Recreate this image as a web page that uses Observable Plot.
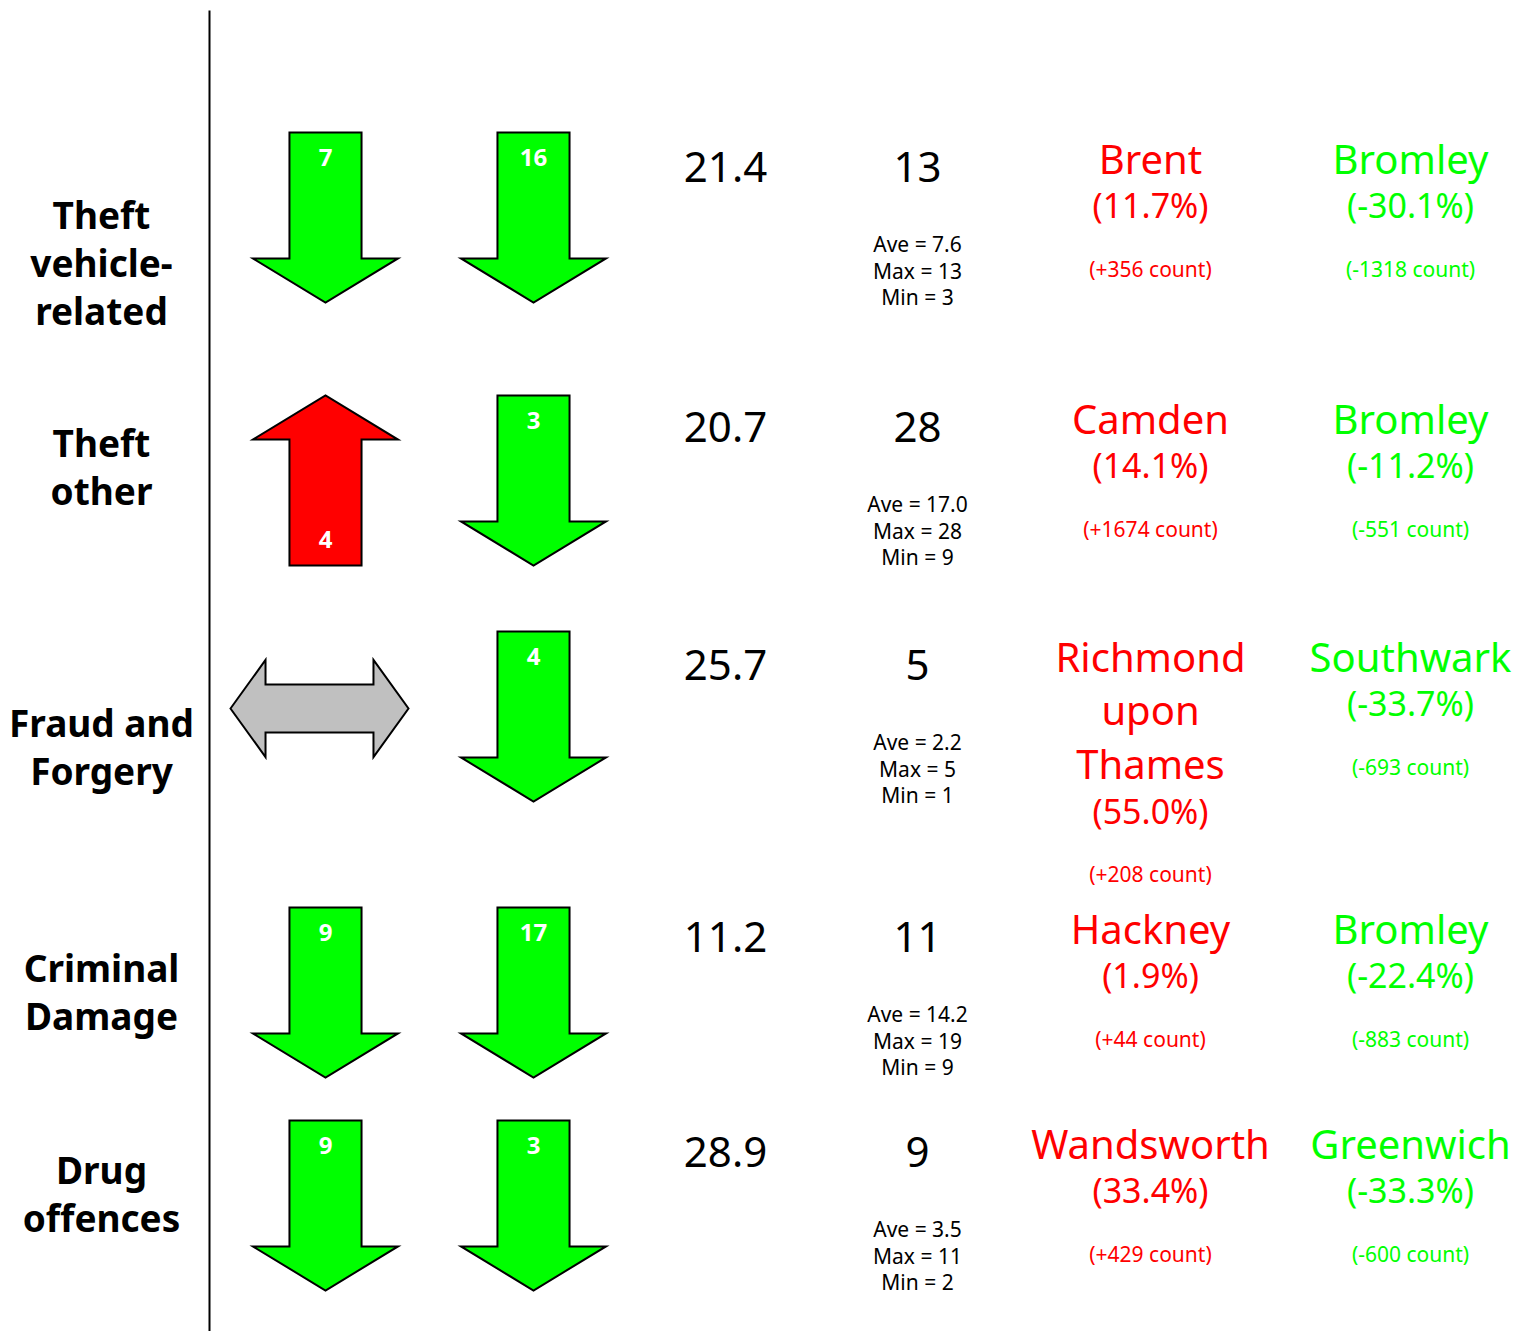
<!DOCTYPE html>
<html><head><meta charset="utf-8">
<script src="https://cdn.jsdelivr.net/npm/d3@7"></script>
<script src="https://cdn.jsdelivr.net/npm/@observablehq/plot@0.6"></script>
<style>
html,body{margin:0;padding:0;background:#fff;}
#wrap{display:flex;width:1517px;height:1331px;background:#fff;}
#wrap svg{display:block;max-width:none;}
</style></head><body><div id="wrap"></div>
<script>
// ---- data ----
const crimeLabels = ["Theft\nvehicle-\nrelated", "Theft\nother", "Fraud and\nForgery", "Criminal\nDamage", "Drug\noffences"];
const trendDirection = ["down", "up", "flat", "down", "down"];
const trendValue = [7, 4, null, 9, 9];
const rankChange = [16, 3, 4, 17, 3];
const rate = [21.4, 20.7, 25.7, 11.2, 28.9];
const rank = [13, 28, 5, 11, 9];
const rankAve = [7.6, 17.0, 2.2, 14.2, 3.5];
const rankMax = [13, 28, 5, 19, 11];
const rankMin = [3, 9, 1, 9, 2];
const worstBorough = ["Brent", "Camden", "Richmond upon Thames", "Hackney", "Wandsworth"];
const worstPct = [11.7, 14.1, 55.0, 1.9, 33.4];
const worstCount = [356, 1674, 208, 44, 429];
const bestBorough = ["Bromley", "Bromley", "Southwark", "Bromley", "Greenwich"];
const bestPct = [-30.1, -11.2, -33.7, -22.4, -33.3];
const bestCount = [-1318, -551, -693, -883, -600];

// ---- layout (scale ranges of the three panels) ----
const arrowColumns = ["trend", "change"];
const textColumns = ["rate", "rank", "worst", "best"];
const arrowColCenters = [117, 325];
const textColCenters = [85, 277, 510, 770];
const labelRowCenters = [263, 467, 747, 992, 1194];
const arrowRowCenters = [217, 480, 716, 992, 1205];
const textRowCenters = [167, 427, 665, 937, 1152];
const FONT = "'Noto Sans', sans-serif";
const GREEN = "#00ff00", RED = "#ff0000", GREY = "#c0c0c0";
const H = 1331;

function wrapName(s, maxChars = 10) {
  const words = s.split(" "), lines = [];
  let cur = "";
  for (const w of words) {
    if (cur && (cur + " " + w).length > maxChars) { lines.push(cur); cur = w; }
    else cur = cur ? cur + " " + w : w;
  }
  lines.push(cur);
  return lines;
}
const sign = v => (v > 0 ? "+" : "") + v;

const rows = crimeLabels.map((label, i) => ({
  row: i, label, dir: trendDirection[i], trend: trendValue[i], change: rankChange[i],
  rate: rate[i], rank: rank[i], ave: rankAve[i], max: rankMax[i], min: rankMin[i],
  worst: wrapName(worstBorough[i]), worstPct: worstPct[i], worstCount: worstCount[i],
  best: wrapName(bestBorough[i]), bestPct: bestPct[i], bestCount: bestCount[i]
}));
const rowDomain = d3.range(rows.length);

// ---- arrow symbols ----
function polySymbol(pts) {
  return {draw(ctx, size) {
    const r = Math.sqrt(size / Math.PI);
    pts.forEach(([x, y], i) => i ? ctx.lineTo(x * r, y * r) : ctx.moveTo(x * r, y * r));
    ctx.closePath();
  }};
}
const SW = 0.424, HW = 0.853, HB = 0.482;
const downPts = [[-SW, -1], [SW, -1], [SW, HB], [HW, HB], [0, 1], [-HW, HB], [-SW, HB]];
const arrowDown = polySymbol(downPts);
const arrowUp = polySymbol(downPts.map(([x, y]) => [x, -y]));
const arrowBoth = polySymbol([[-1.047, 0], [-0.635, -0.571], [-0.635, -0.282], [0.635, -0.282], [0.635, -0.571],
  [1.047, 0], [0.635, 0.571], [0.635, 0.282], [-0.635, 0.282], [-0.635, 0.571]]);

const acol = name => () => arrowColumns.indexOf(name);
const tcol = name => () => textColumns.indexOf(name);
const arrowStyle = {y: "row", r: 85, stroke: "black", strokeWidth: 2, strokeLinejoin: "miter"};
const numStyle = {y: "row", fill: "white", fontWeight: "bold", fontSize: 24, fontFamily: FONT};

function boroughMarks(key, pctKey, countKey, color) {
  const marks = [
    Plot.text(rows, {x: tcol(key), y: "row", text: d => d[key].join("\n"), lineAnchor: "top", lineHeight: 1.34,
      dy: -32, fontSize: 40, fill: color, fontFamily: FONT})
  ];
  for (const [k, group] of d3.groups(rows, d => d[key].length)) {
    const extra = (k - 1) * 53.6;
    marks.push(Plot.text(group, {x: tcol(key), y: "row", text: d => `(${d[pctKey].toFixed(1)}%)`,
      dy: 40 + extra, fontSize: 34, fill: color, fontFamily: FONT}));
    marks.push(Plot.text(group, {x: tcol(key), y: "row", text: d => `(${sign(d[countKey])} count)`,
      dy: 103 + extra, fontSize: 21, fill: color, fontFamily: FONT}));
  }
  return marks;
}

const labelPlot = Plot.plot({
  width: 208, height: H, marginLeft: 0, marginRight: 6, marginTop: 0, marginBottom: 0,
  style: {fontFamily: FONT, background: "white"},
  y: {type: "linear", domain: rowDomain, range: labelRowCenters, axis: null},
  marks: [
    Plot.text(rows, {y: "row", text: "label", fontWeight: "bold", fontSize: 37, lineHeight: 1.3,
      dy: -2, fill: "black", fontFamily: FONT})
  ]
});

const arrowPlot = Plot.plot({
  width: 432, height: H, marginLeft: 1, marginRight: 0, marginTop: 11, marginBottom: 0,
  style: {fontFamily: FONT, background: "white", overflow: "visible"},
  x: {type: "linear", domain: d3.range(arrowColumns.length), range: arrowColCenters, axis: null},
  y: {type: "linear", domain: rowDomain, range: arrowRowCenters, axis: null},
  marks: [
    Plot.frame({anchor: "left", stroke: "black", strokeWidth: 2}),
    Plot.dot(rows.filter(d => d.dir === "down"), {...arrowStyle, x: acol("trend"), symbol: arrowDown, fill: GREEN}),
    Plot.dot(rows.filter(d => d.dir === "up"), {...arrowStyle, x: acol("trend"), symbol: arrowUp, fill: RED}),
    Plot.dot(rows.filter(d => d.dir === "flat"), {...arrowStyle, x: acol("trend"), symbol: arrowBoth, fill: GREY, dx: -6, dy: -8}),
    Plot.text(rows.filter(d => d.dir === "down"), {...numStyle, x: acol("trend"), text: "trend", dy: -59}),
    Plot.text(rows.filter(d => d.dir === "up"), {...numStyle, x: acol("trend"), text: "trend", dy: 60}),
    Plot.dot(rows, {...arrowStyle, x: acol("change"), symbol: arrowDown, fill: GREEN}),
    Plot.text(rows, {...numStyle, x: acol("change"), text: "change", dy: -59})
  ]
});

const textPlot = Plot.plot({
  width: 877, height: H, marginLeft: 0, marginRight: 0, marginTop: 0, marginBottom: 0,
  style: {fontFamily: FONT, background: "white", overflow: "visible"},
  x: {type: "linear", domain: d3.range(textColumns.length), range: textColCenters, axis: null},
  y: {type: "linear", domain: rowDomain, range: textRowCenters, axis: null},
  marks: [
    Plot.text(rows, {x: tcol("rate"), y: "row", text: d => d.rate.toFixed(1), dy: 1, fontSize: 42, fill: "black", fontFamily: FONT}),
    Plot.text(rows, {x: tcol("rank"), y: "row", text: d => String(d.rank), dy: 1, fontSize: 42, fill: "black", fontFamily: FONT}),
    Plot.text(rows, {x: tcol("rank"), y: "row", text: d => `Ave = ${d.ave.toFixed(1)}\nMax = ${d.max}\nMin = ${d.min}`,
      lineAnchor: "top", lineHeight: 1.26, dy: 66, fontSize: 21, fill: "black", fontFamily: FONT}),
    ...boroughMarks("worst", "worstPct", "worstCount", RED),
    ...boroughMarks("best", "bestPct", "bestCount", GREEN)
  ]
});

document.getElementById("wrap").append(labelPlot, arrowPlot, textPlot);
</script>
</body></html>
